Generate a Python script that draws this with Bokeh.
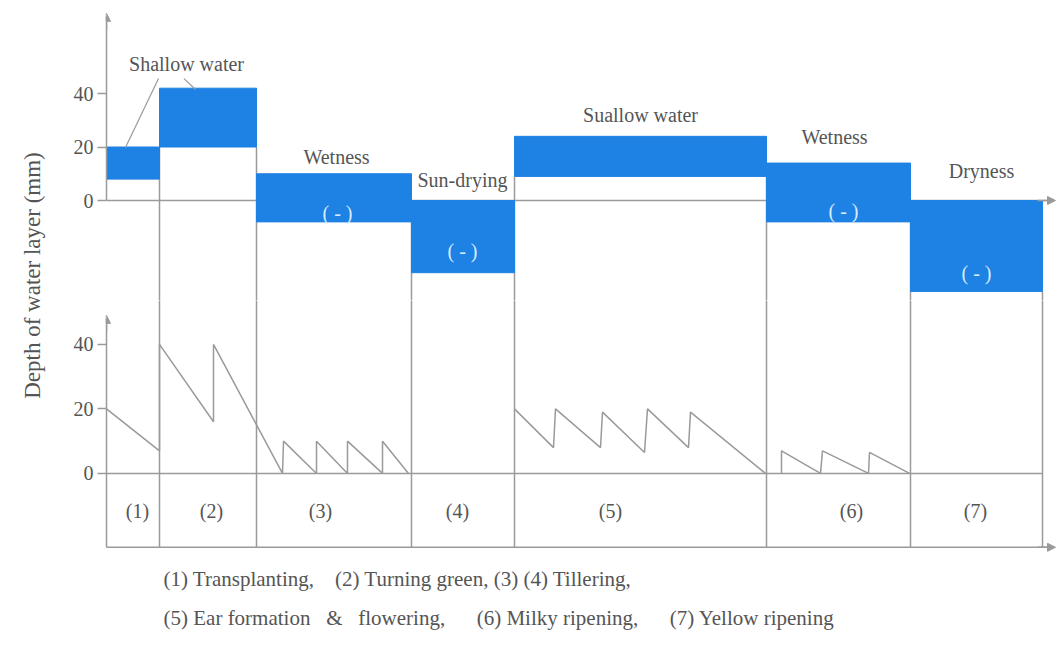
import numpy as np
from bokeh.plotting import figure
from bokeh.layouts import row, column
from bokeh.models import Range1d, FixedTicker, Arrow, NormalHead
from bokeh.core.properties import value
from bokeh.embed import file_html
from bokeh.resources import INLINE

# ---------------- data ----------------
stage_names = ["(1)", "(2)", "(3)", "(4)", "(5)", "(6)", "(7)"]
stage_start = [0.0, 5.3, 15.0, 30.5, 40.8, 66.0, 80.4]
stage_end = [5.3, 15.0, 30.5, 40.8, 66.0, 80.4, 93.6]
stage_label_x = [3.1, 10.5, 21.4, 35.1, 50.4, 74.5, 86.9]

# water-layer range of each stage (mm)
block_top = [20, 42, 10, 0, 24, 14, 0]
block_bottom = [8, 20, -8, -27, 9, -8, -34]

block_labels = ["Shallow water", "Wetness", "Sun-drying", "Suallow water", "Wetness", "Dryness"]
block_label_x = [8.0, 23.0, 35.6, 53.4, 72.8, 87.5]
block_label_y = [51.2, 16.4, 7.5, 32.0, 23.9, 11.2]

minus_label = "( - )"
minus_x = [23.1, 35.6, 73.7, 87.0]
minus_y = [-4.5, -18.7, -4.1, -27.0]

# leader lines of "Shallow water"
leader_x0 = [1.9, 7.75]
leader_y0 = [19.8, 45.6]
leader_x1 = [5.2, 8.9]
leader_y1 = [45.6, 41.5]

# actual water depth over time (mm)
t_early = [0.0, 5.3, 5.3, 10.7, 10.7, 17.6, 17.7, 21.0, 21.0, 24.1, 24.1, 27.6, 27.6, 30.2]
d_early = [20, 7, 40, 16, 40, 0, 10, 0, 10, 0, 10, 0, 10, 0]
t_mid = [40.8, 44.7, 44.9, 49.4, 49.6, 53.8, 54.1, 58.2, 58.4, 65.9]
d_mid = [20, 8, 20, 8, 19, 6.5, 20, 8, 19, 0]
t_late = [67.5, 67.5, 71.4, 71.6, 76.2, 76.3, 80.3]
d_late = [0, 7, 0, 7, 0, 6.5, 0]

y_ticks = [0, 20, 40]

NB = "\u00a0"
caption_1 = "(1) Transplanting," + NB * 3 + " (2) Turning green, (3) (4) Tillering,"
caption_2 = ("(5) Ear formation" + NB * 3 + "&" + NB * 3 + "flowering," + NB * 5
             + " (6) Milky ripening," + NB * 5 + " (7) Yellow ripening")
y_title = "Depth of water layer (mm)"

# ---------------- style ----------------
FONT_NAME = "Liberation Serif"
FONT = value(FONT_NAME)
TXT = "#555555"
GRAY = "#9a9a9a"
BLUE = "#1e82e4"
X_END = 95.1
COL_W = 999


def style_yaxis(p, bounds):
    ax = p.yaxis[0]
    ax.ticker = FixedTicker(ticks=y_ticks)
    ax.bounds = bounds
    ax.axis_line_color = GRAY
    ax.axis_line_width = 1.5
    ax.major_tick_line_color = GRAY
    ax.major_tick_line_width = 1.5
    ax.major_tick_in = 0
    ax.major_tick_out = 9
    ax.minor_tick_line_color = None
    ax.major_label_text_font = FONT_NAME
    ax.major_label_text_font_size = "20px"
    ax.major_label_text_color = TXT
    ax.major_label_standoff = 4


def base_fig(h, yr):
    p = figure(width=COL_W, height=h, x_range=Range1d(0, X_END), y_range=yr,
               x_axis_type=None, output_backend="svg", toolbar_location=None,
               min_border_left=48, min_border_right=0, min_border_top=0,
               min_border_bottom=0)
    p.outline_line_color = None
    p.xgrid.visible = False
    p.ygrid.visible = False
    return p


def head():
    return NormalHead(size=8, fill_color=GRAY, line_color=GRAY)


# ---------------- upper panel ----------------
up = base_fig(300, Range1d(-37.4, 74.8))
style_yaxis(up, (0, 69))

bounds_x = np.array(stage_end)
bb = np.array(block_bottom)
line_top = np.append(np.maximum(bb[:-1], bb[1:]), bb[-1])
up.segment(x0=bounds_x, y0=line_top, x1=bounds_x, y1=-40, line_color=GRAY, line_width=1.5)
up.segment(x0=[0], y0=[0], x1=[X_END - 0.4], y1=[0], line_color=GRAY, line_width=1.5)
up.quad(left=stage_start, right=stage_end, top=block_top, bottom=block_bottom,
        fill_color=BLUE, line_color=BLUE, line_width=1)
up.segment(x0=leader_x0, y0=leader_y0, x1=leader_x1, y1=leader_y1,
           line_color=GRAY, line_width=1.2)
up.text(x=block_label_x, y=block_label_y, text=block_labels, text_font=FONT,
        text_font_size="20px", text_color=TXT, text_align="center", text_baseline="middle")
up.text(x=minus_x, y=minus_y, text=[minus_label] * len(minus_x), text_font=FONT,
        text_font_size="20px", text_color="#d6ebff", text_align="center",
        text_baseline="middle")
up.add_layout(Arrow(end=head(), x_start=0, y_start=64, x_end=0, y_end=70,
                    line_color=GRAY, line_width=1.5))
up.add_layout(Arrow(end=head(), x_start=X_END - 2, y_start=0, x_end=X_END - 0.2, y_end=0,
                    line_color=GRAY, line_width=1.5))

# ---------------- lower panel ----------------
BASE = -22.9
lo = base_fig(351, Range1d(-55.2, 53.6))
style_yaxis(lo, (BASE, 48))

lo.segment(x0=bounds_x, y0=60, x1=bounds_x, y1=BASE, line_color=GRAY, line_width=1.5)
lo.segment(x0=[0], y0=[0], x1=[stage_end[-1]], y1=[0], line_color=GRAY, line_width=1.5)
lo.segment(x0=[0], y0=[BASE], x1=[X_END - 0.4], y1=[BASE], line_color=GRAY, line_width=1.5)
for tx, dy in ((t_early, d_early), (t_mid, d_mid), (t_late, d_late)):
    lo.line(tx, dy, line_color=GRAY, line_width=1.5)
lo.text(x=stage_label_x, y=[-11.8] * len(stage_names), text=stage_names, text_font=FONT,
        text_font_size="20px", text_color=TXT, text_align="center", text_baseline="middle")
lo.text(x=[5.7, 5.7], y=[-32.6, -44.7], text=[caption_1, caption_2], text_font=FONT,
        text_font_size="21px", text_color=TXT, text_align="left", text_baseline="middle")
lo.add_layout(Arrow(end=head(), x_start=0, y_start=44, x_end=0, y_end=49,
                    line_color=GRAY, line_width=1.5))
lo.add_layout(Arrow(end=head(), x_start=X_END - 2, y_start=BASE, x_end=X_END - 0.2, y_end=BASE,
                    line_color=GRAY, line_width=1.5))

# ---------------- y title ----------------
tf = figure(width=58, height=651, x_range=Range1d(0, 58), y_range=Range1d(0, 651),
            x_axis_type=None, y_axis_type=None, output_backend="svg",
            toolbar_location=None, min_border=0)
tf.outline_line_color = None
tf.xgrid.visible = False
tf.ygrid.visible = False
tf.text(x=[32], y=[376], text=[y_title], angle=np.pi / 2, text_font=FONT,
        text_font_size="23px", text_color=TXT, text_align="center", text_baseline="middle")

layout = row(tf, column(up, lo, spacing=0), spacing=0)
open("out.html", "w").write(file_html(layout, INLINE))
